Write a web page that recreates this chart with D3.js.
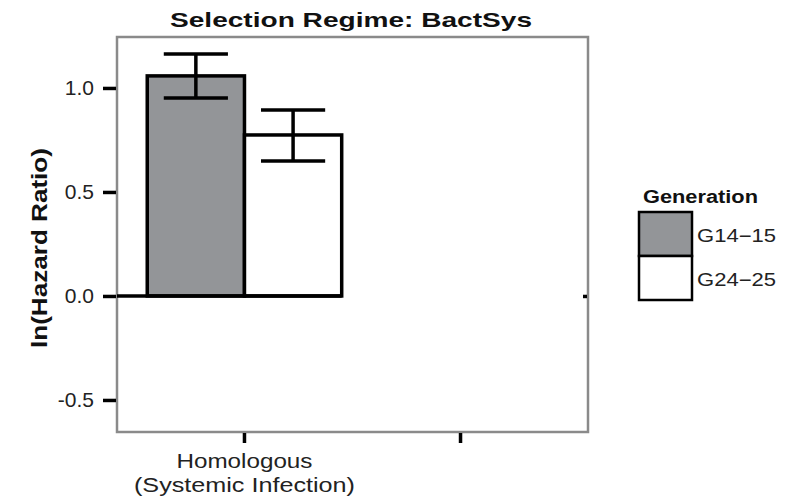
<!DOCTYPE html>
<html>
<head>
<meta charset="utf-8">
<script src="https://cdn.jsdelivr.net/npm/d3@7"></script>
<style>
  body { margin: 0; background: #fff; }
  text { font-family: "Liberation Sans", Arial, sans-serif; }
</style>
</head>
<body>
<div class="canvas"></div>
<script>
// chart values
const categories = ["Homologous", "Other"];
const categoryLabels = [["Homologous", "(Systemic Infection)"], [""]];
const generations = ["G14\u221215", "G24\u221225"];
const means = [1.058, 0.774];        // Homologous only
const lowers = [0.952, 0.649];
const uppers = [1.163, 0.894];
const yTicks = [-0.5, 0.0, 0.5, 1.0];
const fills = ["#939598", "#ffffff"];

// dimensions
const w = 785;
const h = 496;
const panel = { left: 117, top: 37, right: 588, bottom: 432 };

const svg = d3.select(".canvas").append("svg").attr("width", w).attr("height", h);

// the original text is drawn a little wide, so stretch to the measured width
const stretch = (sel, len) => sel.attr("textLength", len).attr("lengthAdjust", "spacingAndGlyphs");

// scales
const xScale = d3.scaleBand()
  .domain(categories)
  .range([panel.left, panel.right])
  .paddingInner(0)
  .paddingOuter(0.09);

const dodge = d3.scaleBand()
  .domain(generations)
  .range([0, xScale.bandwidth() * 0.9]);

const yScale = d3.scaleLinear()
  .domain([-0.654, 1.245])
  .range([panel.bottom, panel.top]);

const color = d3.scaleOrdinal().domain(generations).range(fills);

// panel border
svg.append("rect")
  .attr("x", panel.left)
  .attr("y", panel.top)
  .attr("width", panel.right - panel.left)
  .attr("height", panel.bottom - panel.top)
  .attr("fill", "none")
  .attr("stroke", "#8a8a8a")
  .attr("stroke-width", 2.5);

// bars
const rows = generations.map((g, i) => ({ cat: categories[0], gen: g, mean: means[i], lo: lowers[i], hi: uppers[i] }));
const barOffset = (xScale.bandwidth() - xScale.bandwidth() * 0.9) / 2;
const barX = d => xScale(d.cat) + barOffset + dodge(d.gen);

svg.append("g")
  .selectAll("rect")
  .data(rows)
  .enter()
  .append("rect")
  .attr("x", barX)
  .attr("y", d => yScale(d.mean))
  .attr("width", dodge.bandwidth())
  .attr("height", d => yScale(0) - yScale(d.mean))
  .attr("fill", d => color(d.gen))
  .attr("stroke", "#000")
  .attr("stroke-width", 3.5);

// zero line running from the axis under the bars
svg.append("line")
  .attr("x1", panel.left)
  .attr("x2", barX(rows[rows.length - 1]) + dodge.bandwidth())
  .attr("y1", yScale(0))
  .attr("y2", yScale(0))
  .attr("stroke", "#000")
  .attr("stroke-width", 3.5);

// error bars
const capWidth = dodge.bandwidth() * 0.66;
const err = svg.append("g").attr("stroke", "#000").attr("stroke-width", 3.5);
rows.forEach(d => {
  const cx = barX(d) + dodge.bandwidth() / 2;
  err.append("line").attr("x1", cx).attr("x2", cx).attr("y1", yScale(d.hi)).attr("y2", yScale(d.lo));
  err.append("line").attr("x1", cx - capWidth / 2).attr("x2", cx + capWidth / 2).attr("y1", yScale(d.hi)).attr("y2", yScale(d.hi));
  err.append("line").attr("x1", cx - capWidth / 2).attr("x2", cx + capWidth / 2).attr("y1", yScale(d.lo)).attr("y2", yScale(d.lo));
});

// y axis
const yAxis = svg.append("g")
  .attr("transform", `translate(${panel.left - 1}, 0)`)
  .call(d3.axisLeft(yScale).tickValues(yTicks).tickSize(13).tickPadding(9));
yAxis.select(".domain").remove();
yAxis.selectAll("line").attr("stroke", "#000").attr("stroke-width", 3.5);
yAxis.selectAll("text")
  .attr("font-size", 21)
  .attr("fill", "#222")
  .text(d => d3.format(".1f")(d).replace("\u2212", "-"));

// small zero tick on the right edge
const rAxis = svg.append("g")
  .attr("transform", `translate(${panel.right - 1}, 0)`)
  .call(d3.axisRight(yScale).tickValues([0]).tickSize(-4).tickFormat(""));
rAxis.select(".domain").remove();
rAxis.selectAll("line").attr("stroke", "#000").attr("stroke-width", 3.5);

// x axis
const xAxis = svg.append("g")
  .attr("transform", `translate(0, ${panel.bottom + 1})`)
  .call(d3.axisBottom(xScale).tickSize(10).tickFormat(""));
xAxis.select(".domain").remove();
xAxis.selectAll("line").attr("stroke", "#000").attr("stroke-width", 3.5);

const labelWidths = [[136, 221], [0]];
categories.forEach((c, i) => {
  categoryLabels[i].forEach((line, j) => {
    if (!line) return;
    svg.append("text")
      .attr("x", xScale(c) + xScale.bandwidth() / 2)
      .attr("y", 468 + j * 24)
      .attr("text-anchor", "middle")
      .attr("font-size", 20)
      .attr("fill", "#222")
      .text(line)
      .call(stretch, labelWidths[i][j]);
  });
});

// title
svg.append("text")
  .attr("x", 351)
  .attr("y", 27)
  .attr("text-anchor", "middle")
  .attr("font-size", 21)
  .attr("font-weight", "bold")
  .attr("fill", "#111")
  .text("Selection Regime: BactSys")
  .call(stretch, 362);

// y label
svg.append("text")
  .attr("transform", `translate(47, 248) rotate(-90)`)
  .attr("text-anchor", "middle")
  .attr("font-size", 22)
  .attr("font-weight", "bold")
  .attr("fill", "#111")
  .text("ln(Hazard Ratio)")
  .call(stretch, 200);

// legend
const legend = svg.append("g").attr("transform", "translate(639, 212)");
legend.append("text")
  .attr("x", 4)
  .attr("y", -9)
  .attr("font-size", 18)
  .attr("font-weight", "bold")
  .attr("fill", "#111")
  .text("Generation")
  .call(stretch, 115);

const keyH = 44;
generations.forEach((g, i) => {
  legend.append("rect")
    .attr("x", 0)
    .attr("y", i * keyH)
    .attr("width", 53)
    .attr("height", keyH)
    .attr("fill", color(g))
    .attr("stroke", "#000")
    .attr("stroke-width", 2.5);
  legend.append("text")
    .attr("x", 58)
    .attr("y", i * keyH + keyH / 2 + 8)
    .attr("font-size", 18)
    .attr("fill", "#222")
    .text(g)
    .call(stretch, 79);
});
</script>
</body>
</html>
